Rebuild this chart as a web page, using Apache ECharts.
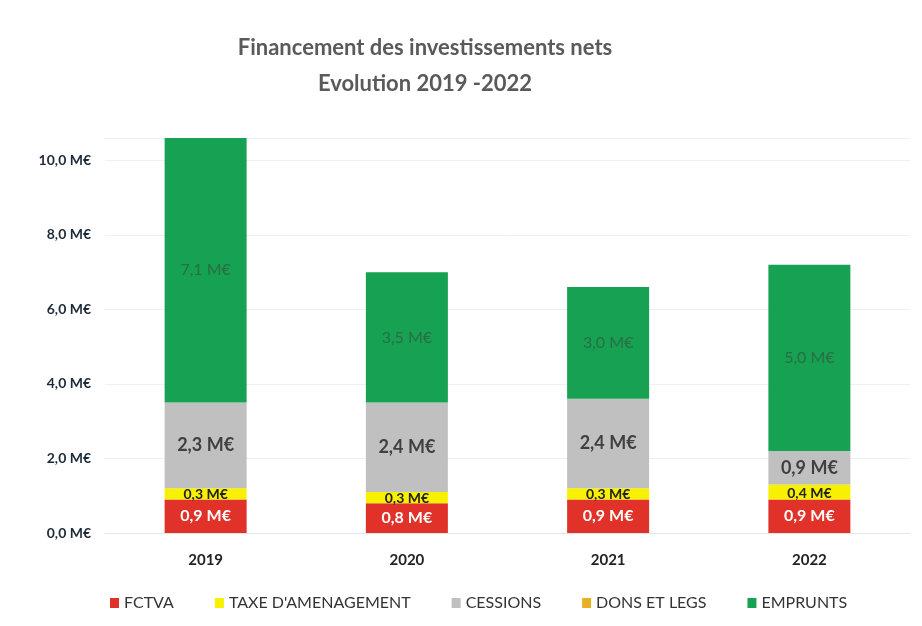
<!DOCTYPE html>
<html><head><meta charset="utf-8">
<script src="https://cdn.jsdelivr.net/npm/echarts@6/dist/echarts.min.js"></script>
<style>html,body{margin:0;padding:0;background:#fff}#c{width:922px;height:626px}</style>
</head><body><div id="c"></div>
<script>
const categories = ['2019', '2020', '2021', '2022'];
const fctva = [0.9, 0.8, 0.9, 0.9];
const taxe = [0.3, 0.3, 0.3, 0.4];
const cessions = [2.3, 2.4, 2.4, 0.9];
const dons = [0, 0, 0, 0];
const emprunts = [7.1, 3.5, 3.0, 5.0];
const yTicks = [0, 2, 4, 6, 8, 10];

const fmt = v => v.toFixed(1).replace('.', ',') + ' M€';
const font = 'Lato, "Open Sans", sans-serif';
function s(name, data, color, lbl) {
  return {
    name, type: 'bar', stack: 't', data, barWidth: 82,
    itemStyle: { color },
    label: lbl ? Object.assign({ show: true, position: 'inside', fontFamily: font,
      formatter: p => fmt(p.value) }, lbl) : { show: false }
  };
}
const chart = echarts.init(document.getElementById('c'));
chart.setOption({
  animation: false,
  title: {
    text: 'Financement des investissements nets\nEvolution 2019 -2022',
    left: 420, top: 25, textAlign: 'center',
    textStyle: { fontFamily: font, fontSize: 22, fontWeight: 'bold', color: '#5a5a5a', lineHeight: 36 }
  },
  legend: {
    bottom: 10, left: 105, itemWidth: 9, itemHeight: 10, itemGap: 41, icon: 'rect',
    textStyle: { fontFamily: font, fontSize: 16, color: '#333' }
  },
  grid: { left: 105, right: 12, top: 138, bottom: 93 },
  xAxis: {
    type: 'category', data: categories,
    axisLine: { lineStyle: { color: '#e6e6e6' } }, axisTick: { show: false },
    axisLabel: { fontFamily: font, fontSize: 15, fontWeight: 'bold', color: '#222', margin: 20 }
  },
  yAxis: {
    type: 'value', min: 0, max: 10.6, interval: 2,
    axisLabel: { fontFamily: font, fontSize: 14, fontWeight: 'bold', color: '#1e2a3a', margin: 14,
      formatter: v => yTicks.includes(v) ? fmt(v) : '' },
    splitLine: { lineStyle: { color: '#f0f0f0' } },
    axisLine: { show: false }, axisTick: { show: false }
  },
  series: [
    s('FCTVA', fctva, '#e03228', { color: '#fff', fontSize: 16, fontWeight: 'bold' }),
    s("TAXE D'AMENAGEMENT", taxe, '#f7f000', { color: '#222', fontSize: 14, fontWeight: 'bold', offset: [0, 1] }),
    s('CESSIONS', cessions, '#c0c0c0', { color: '#404040', fontSize: 18, fontWeight: 'bold' }),
    s('DONS ET LEGS', dons, '#e6b022', null),
    s('EMPRUNTS', emprunts, '#17a152', { color: '#2a6e45', fontSize: 16 })
  ]
});
</script></body></html>
